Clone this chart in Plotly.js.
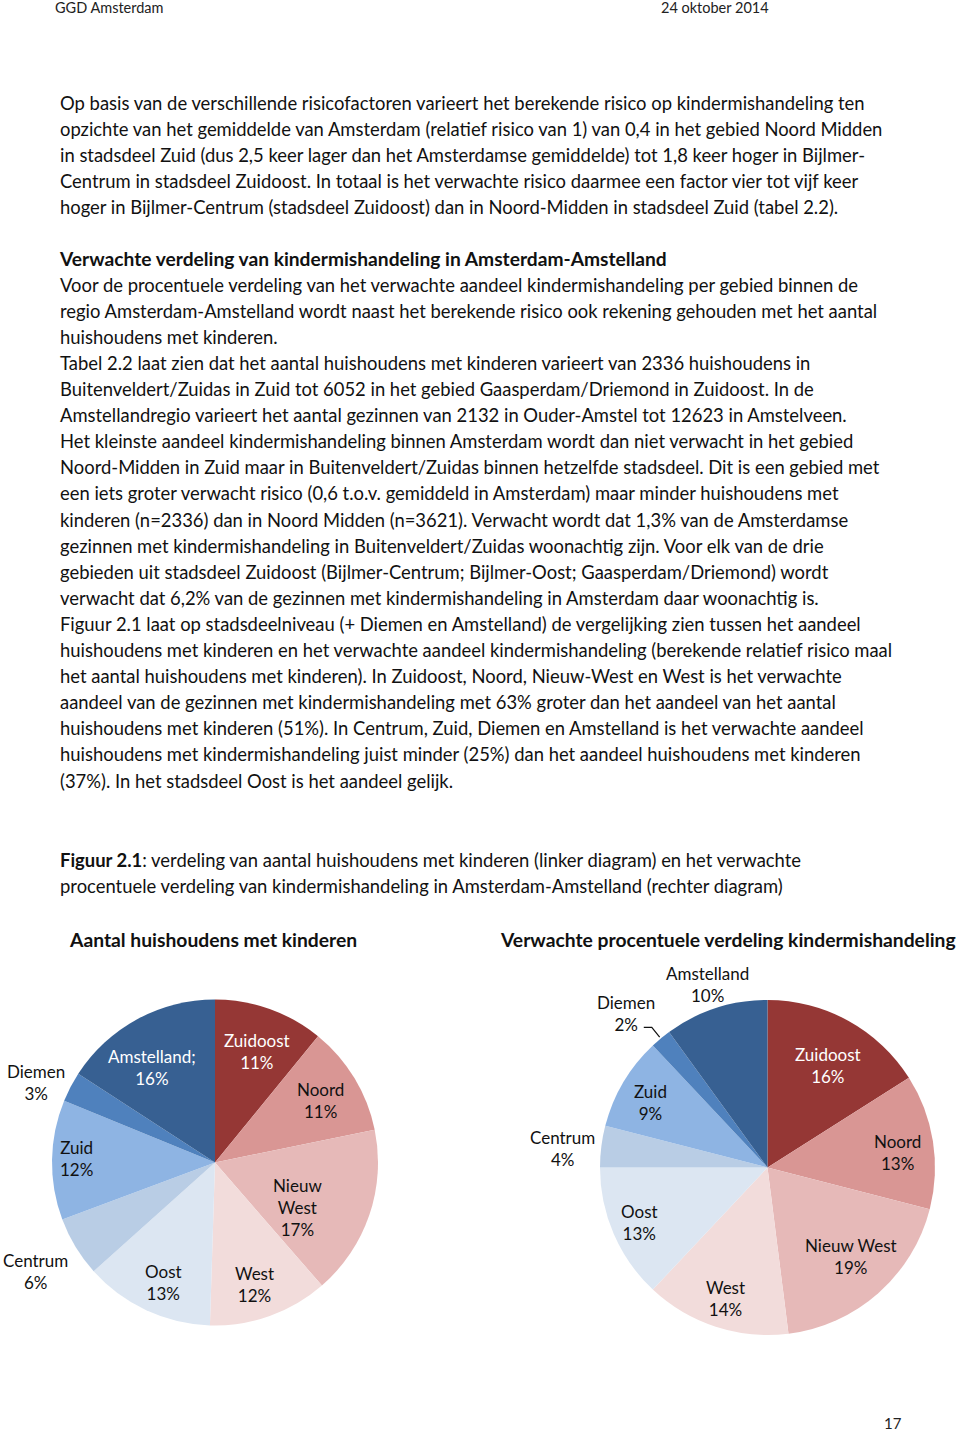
<!DOCTYPE html>
<html><head><meta charset="utf-8">
<script src="https://cdn.plot.ly/plotly-3.0.1.min.js"></script>
<style>
html,body{margin:0;padding:0;background:#fff;}
body{width:960px;height:1433px;position:relative;overflow:hidden;font-family:Lato,"Open Sans",sans-serif;color:#111;}
.l{position:absolute;left:60px;white-space:nowrap;line-height:26px;height:26px;}
.hd{position:absolute;white-space:nowrap;font-size:14.5px;color:#222;line-height:16px;}
</style></head><body>
<div class="hd" id="h1" style="left:55px;top:0px;">GGD Amsterdam</div>
<div class="hd" id="h2" style="left:661px;top:0px;">24 oktober 2014</div>
<div id="text"></div>
<div id="chart" style="position:absolute;left:0;top:915px;width:960px;height:450px"></div>
<div class="hd" style="left:884px;top:1415px;font-size:15px;">17</div>
<script>
// ---------- data ----------
const categories = ['Zuidoost','Noord','Nieuw West','West','Oost','Centrum','Zuid','Diemen','Amstelland'];
const labelsLeft = ['Zuidoost','Noord','Nieuw<br>West','West','Oost','Centrum','Zuid','Diemen','Amstelland;'];
const labelsRight = ['Zuidoost','Noord','Nieuw West','West','Oost','Centrum','Zuid','Diemen','Amstelland'];
const huishoudensPct = [11,11,17,12,13,6,12,3,16];
const verwachtPct = [16,13,19,14,13,4,9,2,10];
const sliceColors = ['#953735','#D99694','#E6B9B8','#F2DCDB','#DCE6F2','#B9CDE5','#8EB4E3','#4F81BD','#376092'];
const titleLeft = 'Aantal huishoudens met kinderen';
const titleRight = 'Verwachte procentuele verdeling kindermishandeling';

// ---------- body text ----------
const textLines = [
 [103,'Op basis van de verschillende risicofactoren varieert het berekende risico op kindermishandeling ten'],
 [129,'opzichte van het gemiddelde van Amsterdam (relatief risico van 1) van 0,4 in het gebied Noord Midden'],
 [155,'in stadsdeel Zuid (dus 2,5 keer lager dan het Amsterdamse gemiddelde) tot 1,8 keer hoger in Bijlmer-'],
 [181,'Centrum in stadsdeel Zuidoost. In totaal is het verwachte risico daarmee een factor vier tot vijf keer'],
 [207,'hoger in Bijlmer-Centrum (stadsdeel Zuidoost) dan in Noord-Midden in stadsdeel Zuid (tabel 2.2).'],
 [259,'<b>Verwachte verdeling van kindermishandeling in Amsterdam-Amstelland</b>'],
 [285,'Voor de procentuele verdeling van het verwachte aandeel kindermishandeling per gebied binnen de'],
 [311,'regio Amsterdam-Amstelland wordt naast het berekende risico ook rekening gehouden met het aantal'],
 [337,'huishoudens met kinderen.'],
 [363,'Tabel 2.2 laat zien dat het aantal huishoudens met kinderen varieert van 2336 huishoudens in'],
 [389,'Buitenveldert/Zuidas in Zuid tot 6052 in het gebied Gaasperdam/Driemond in Zuidoost. In de'],
 [415,'Amstellandregio varieert het aantal gezinnen van 2132 in Ouder-Amstel tot 12623 in Amstelveen.'],
 [441,'Het kleinste aandeel kindermishandeling binnen Amsterdam wordt dan niet verwacht in het gebied'],
 [467,'Noord-Midden in Zuid maar in Buitenveldert/Zuidas binnen hetzelfde stadsdeel. Dit is een gebied met'],
 [493,'een iets groter verwacht risico (0,6 t.o.v. gemiddeld in Amsterdam) maar minder huishoudens met'],
 [520,'kinderen (n=2336) dan in Noord Midden (n=3621). Verwacht wordt dat 1,3% van de Amsterdamse'],
 [546,'gezinnen met kindermishandeling in Buitenveldert/Zuidas woonachtig zijn. Voor elk van de drie'],
 [572,'gebieden uit stadsdeel Zuidoost (Bijlmer-Centrum; Bijlmer-Oost; Gaasperdam/Driemond) wordt'],
 [598,'verwacht dat 6,2% van de gezinnen met kindermishandeling in Amsterdam daar woonachtig is.'],
 [624,'Figuur 2.1 laat op stadsdeelniveau (+ Diemen en Amstelland) de vergelijking zien tussen het aandeel'],
 [650,'huishoudens met kinderen en het verwachte aandeel kindermishandeling (berekende relatief risico maal'],
 [676,'het aantal huishoudens met kinderen). In Zuidoost, Noord, Nieuw-West en West is het verwachte'],
 [702,'aandeel van de gezinnen met kindermishandeling met 63% groter dan het aandeel van het aantal'],
 [728,'huishoudens met kinderen (51%). In Centrum, Zuid, Diemen en Amstelland is het verwachte aandeel'],
 [754,'huishoudens met kindermishandeling juist minder (25%) dan het aandeel huishoudens met kinderen'],
 [781,'(37%). In het stadsdeel Oost is het aandeel gelijk.'],
 [860,'<b>Figuur 2.1</b>: verdeling van aantal huishoudens met kinderen (linker diagram) en het verwachte'],
 [886,'procentuele verdeling van kindermishandeling in Amsterdam-Amstelland (rechter diagram)']
];
const textDiv = document.getElementById('text');
const lineEls = textLines.map(([y,t]) => {
  const d = document.createElement('div');
  d.className = 'l'; d.style.top = (y-13)+'px'; d.innerHTML = '<span>'+t+'</span>';
  textDiv.appendChild(d); return d;
});
function fitText(){
  let fs = 17;
  lineEls.forEach(d=>d.style.fontSize=fs+'px');
  const w = lineEls[0].firstChild.getBoundingClientRect().width;
  fs = fs*805/w;
  lineEls.forEach(d=>d.style.fontSize=fs+'px');
  // bold heading line: match its width in the reference (ends at x=667)
  const hb = lineEls[5];
  const wb = hb.firstChild.getBoundingClientRect().width;
  hb.style.fontSize = (fs*607/wb)+'px';
}
fitText();
if (document.fonts && document.fonts.ready) document.fonts.ready.then(fitText);

// ---------- chart ----------
const W = 960, H = 450, TOP = 915;
const pies = [
  {values: huishoudensPct, labels: labelsLeft, cx: 215, cy: 1162.5 - TOP, r: 163,
   rf: [0.73,0.75,0.58,0.79,0.80,1.29,0.85,1.20,0.70],
   da: [1,0.6,10,1.6,-1.5,0,0.8,-3.6,-5],
   white: [true,false,false,false,false,false,false,false,true]},
  {values: verwachtPct, labels: labelsRight, cx: 767.5, cy: 1167.5 - TOP, r: 167.5,
   rf: [0.71,0.78,0.73,0.82,0.83,1.23,0.80,1.25,1.15],
   da: [2,2.6,-1.8,0,0,-1.8,-1.6,-3,0],
   white: [true,false,false,false,false,false,false,false,false]}
];
const traces = pies.map(p => ({
  type: 'pie', values: p.values, labels: categories, sort: false, direction: 'clockwise', rotation: 0,
  marker: {colors: sliceColors, line: {width: 0}}, textinfo: 'none', hoverinfo: 'none', showlegend: false,
  domain: {x: [(p.cx-p.r)/W, (p.cx+p.r)/W], y: [1-(p.cy+p.r)/H, 1-(p.cy-p.r)/H]}
}));
const annotations = [];
const shapes = [];
const labFont = {family: 'Lato, "Open Sans", sans-serif', size: 17, color: '#111'};
pies.forEach((p, pi) => {
  const total = p.values.reduce((a,b)=>a+b,0);
  let cum = 0;
  p.values.forEach((v,i) => {
    const mid = (cum + v/2)/total; cum += v;
    const th = mid*2*Math.PI + p.da[i]*Math.PI/180;
    const px = p.cx + p.r*p.rf[i]*Math.sin(th);
    const py = p.cy - p.r*p.rf[i]*Math.cos(th);
    annotations.push({x: px/W, y: 1-py/H, xref:'paper', yref:'paper', showarrow:false,
      xanchor:'center', yanchor:'middle',
      text: p.labels[i] + '<br>' + v + '%', align:'center',
      font: Object.assign({}, labFont, {color: p.white[i] ? '#ffffff' : '#111'})});
    if (pi === 1 && categories[i] === 'Diemen') {
      const thm = mid*2*Math.PI;
      const tx = p.cx + p.r*1.01*Math.sin(thm), ty = p.cy - p.r*1.01*Math.cos(thm);
      const sx = px + 18, sy = py + 14;
      shapes.push({type:'path', xref:'paper', yref:'paper',
        path: `M ${sx/W} ${1-sy/H} L ${(sx+8)/W} ${1-sy/H} L ${tx/W} ${1-ty/H}`,
        line:{color:'#111', width:1.2}});
    }
  });
});
const titleFont = {family:'Lato, "Open Sans", sans-serif', size:19.3, color:'#111'};
annotations.push({x: 67/W, y: 1-24/H, xref:'paper', yref:'paper', xanchor:'left', yanchor:'middle', showarrow:false,
  text: '<b>'+titleLeft+'</b>', font: titleFont});
annotations.push({x: 498/W, y: 1-24/H, xref:'paper', yref:'paper', xanchor:'left', yanchor:'middle', showarrow:false,
  text: '<b>'+titleRight+'</b>', font: titleFont});

Plotly.newPlot('chart', traces, {
  width: W, height: H, margin: {l:0, r:0, t:0, b:0},
  paper_bgcolor: '#fff', plot_bgcolor: '#fff', showlegend: false,
  annotations: annotations, shapes: shapes
}, {displayModeBar: false, staticPlot: true});
</script>
</body></html>
